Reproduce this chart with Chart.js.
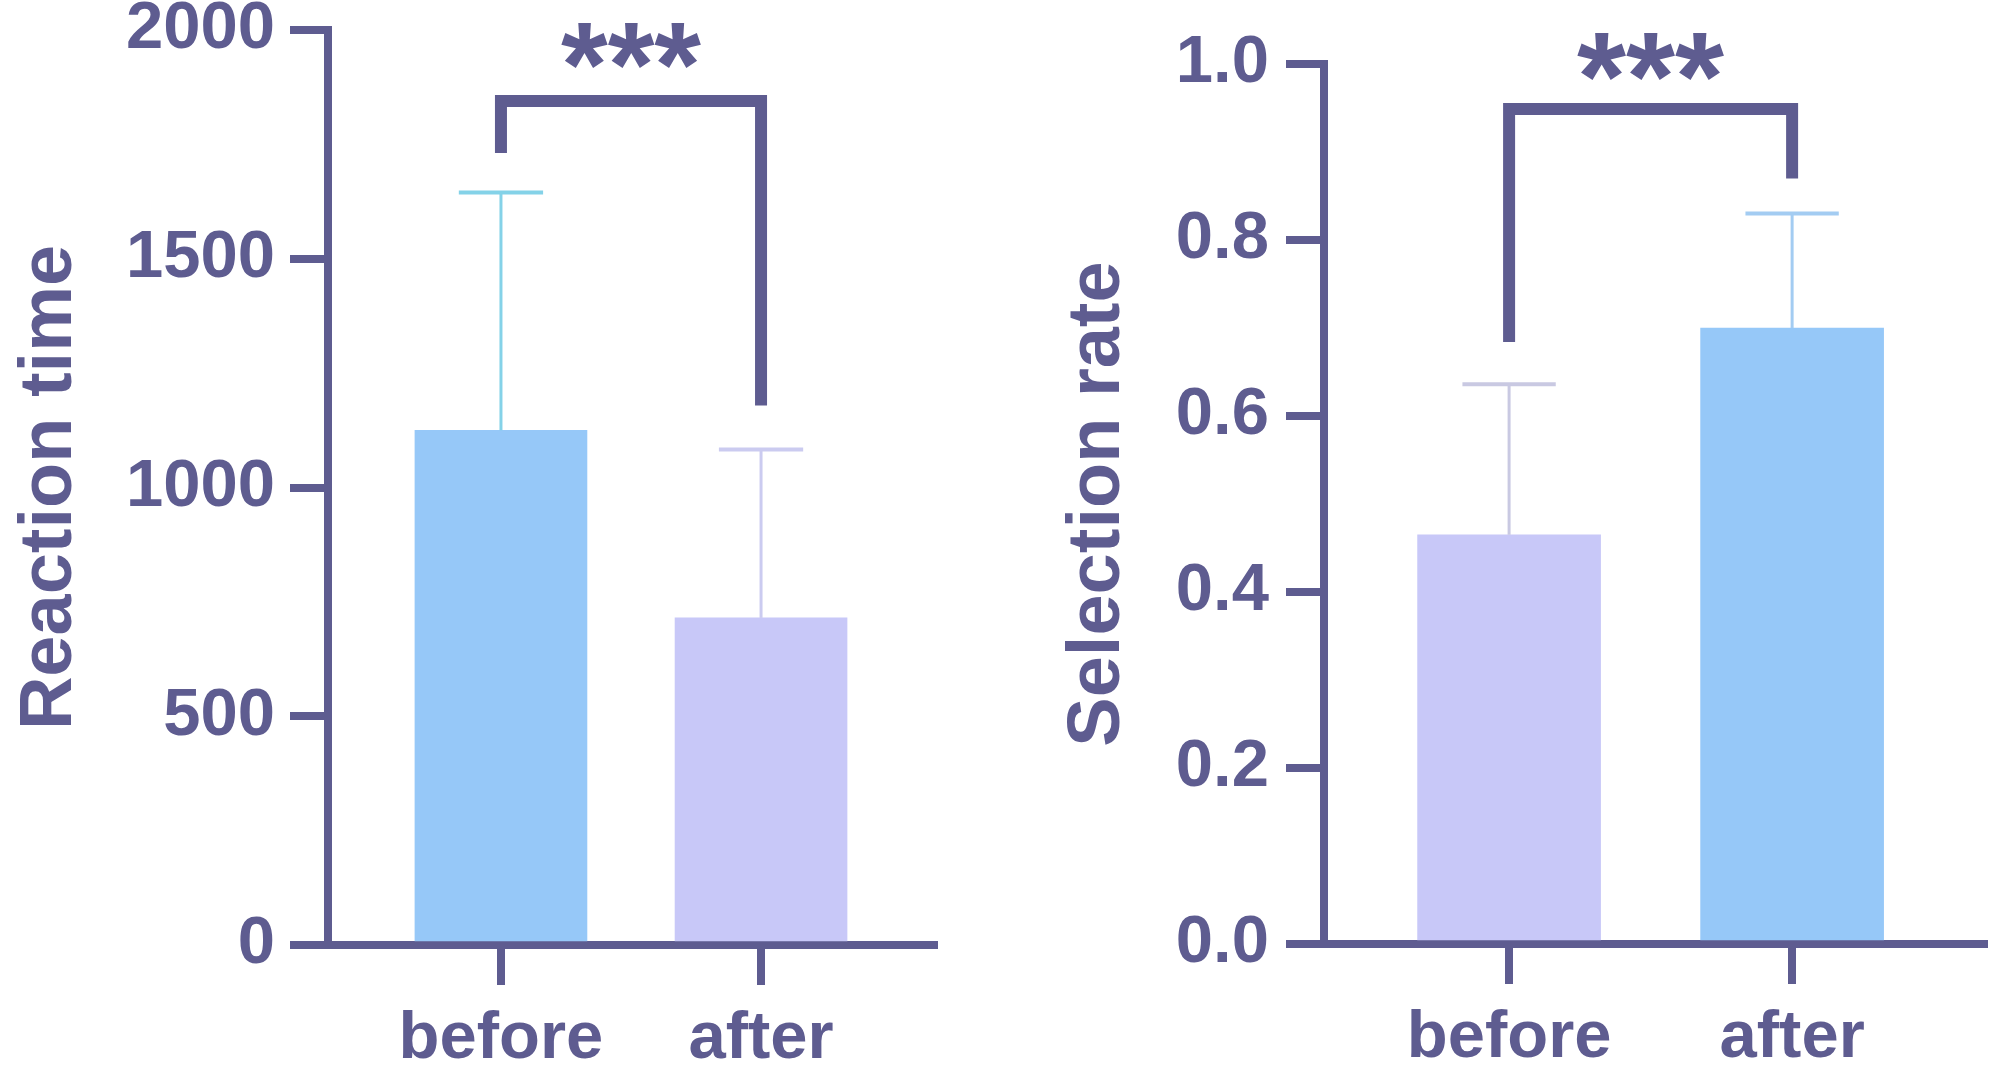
<!DOCTYPE html>
<html>
<head>
<meta charset="utf-8">
<script src="https://cdn.jsdelivr.net/npm/chart.js@4.4.1/dist/chart.umd.min.js"></script>
<style>
  html, body { margin: 0; padding: 0; background: #ffffff; }
  #wrap { position: relative; width: 1995px; height: 1072px; overflow: hidden; }
  #c1 { position: absolute; left: 0; top: 0; }
  #c2 { position: absolute; left: 1000px; top: 0; }
</style>
</head>
<body>
<div id="wrap">
  <canvas id="c1" width="1000" height="1072"></canvas>
  <canvas id="c2" width="995" height="1072"></canvas>
</div>
<script>
// ---- data ----
const categories = ['before', 'after'];
const categoryX = [0, 1];

const reactionMean = [1125, 715];
const reactionSD = [520, 368];
const reactionTicks = [0, 500, 1000, 1500, 2000];
// bracket: [left leg bottom, bar height, right leg bottom]
const reactionBracket = [1731, 1845, 1179];

const selectionMean = [0.465, 0.700];
const selectionSD = [0.171, 0.130];
const selectionTicks = [0, 0.2, 0.4, 0.6, 0.8, 1.0];
const selectionBracket = [0.684, 0.949, 0.870];

const significance = '***';

// ---- styles ----
const AXIS = '#5e5c90';
const TEXT = '#5e5c90';
const BLUE = '#96c8f8';
const LAV = '#c8c8f8';
const FONT = "'Liberation Sans', Arial, sans-serif";

const errorBarPlugin = {
  id: 'errorBars',
  afterDatasetsDraw(chart, args, opts) {
    const ctx = chart.ctx;
    const y = chart.scales.y;
    const meta = chart.getDatasetMeta(0);
    const ds = chart.data.datasets[0];
    meta.data.forEach((bar, i) => {
      const mean = ds.data[i].y;
      const sd = opts.sd[i];
      const yTop = y.getPixelForValue(mean + sd);
      const yBase = y.getPixelForValue(mean);
      const half = bar.width * opts.capRatio;
      ctx.save();
      ctx.strokeStyle = opts.colors[i];
      ctx.lineCap = 'butt';
      ctx.lineWidth = opts.stemWidth;
      ctx.beginPath();
      ctx.moveTo(bar.x, yBase);
      ctx.lineTo(bar.x, yTop);
      ctx.stroke();
      ctx.lineWidth = opts.capWidth;
      ctx.beginPath();
      ctx.moveTo(bar.x - half, yTop);
      ctx.lineTo(bar.x + half, yTop);
      ctx.stroke();
      ctx.restore();
    });
  }
};

const bracketPlugin = {
  id: 'bracket',
  afterDraw(chart, args, opts) {
    const ctx = chart.ctx;
    const x = chart.scales.x, y = chart.scales.y;
    const b = opts.values;
    const x0 = x.getPixelForValue(categoryX[0]);
    const x1 = x.getPixelForValue(categoryX[1]);
    const yL = y.getPixelForValue(b[0]);
    const yT = y.getPixelForValue(b[1]);
    const yR = y.getPixelForValue(b[2]);
    ctx.save();
    ctx.strokeStyle = opts.color;
    ctx.lineWidth = opts.width;
    ctx.lineJoin = 'miter';
    ctx.lineCap = 'butt';
    ctx.beginPath();
    ctx.moveTo(x0, yL);
    ctx.lineTo(x0, yT);
    ctx.lineTo(x1, yT);
    ctx.lineTo(x1, yR);
    ctx.stroke();
    // stars
    ctx.fillStyle = opts.color;
    ctx.font = 'bold ' + opts.starSize + 'px ' + FONT;
    ctx.textAlign = 'center';
    ctx.textBaseline = 'alphabetic';
    const m = ctx.measureText(opts.text);
    const inkBottom = yT - opts.width / 2 - opts.starGap;
    const baseline = inkBottom - m.actualBoundingBoxDescent;
    ctx.fillText(opts.text, (x0 + x1) / 2, baseline);
    ctx.restore();
  }
};

function makeChart(canvas, cfg) {
  return new Chart(canvas, {
    type: 'bar',
    data: {
      datasets: [{
        data: cfg.means.map((v, i) => ({ x: categoryX[i], y: v })),
        backgroundColor: cfg.barColors,
        borderWidth: 0,
        barThickness: cfg.barThickness
      }]
    },
    options: {
      responsive: false,
      animation: false,
      devicePixelRatio: 1,
      layout: { padding: cfg.padding },
      plugins: {
        legend: { display: false },
        tooltip: { enabled: false },
        errorBars: {
          sd: cfg.sd, colors: cfg.errColors, capRatio: cfg.capRatio,
          stemWidth: 3, capWidth: 4
        },
        bracket: {
          values: cfg.bracket, color: AXIS, width: 12,
          text: significance, starSize: cfg.starSize, starGap: cfg.starGap
        }
      },
      scales: {
        x: {
          type: 'linear',
          min: cfg.xRange[0],
          max: cfg.xRange[1],
          offset: false,
          afterBuildTicks: (s) => { s.ticks = categoryX.map(v => ({ value: v })); },
          afterFit: (s) => { s.height = cfg.xHeight; s.paddingLeft = 0; s.paddingRight = 0; },
          grid: {
            offset: false,
            drawOnChartArea: false,
            drawTicks: true,
            tickLength: 40,
            tickWidth: 8,
            tickColor: AXIS,
            lineWidth: 8,
            color: AXIS
          },
          border: { display: true, width: 8, color: AXIS },
          ticks: {
            color: TEXT,
            font: { family: FONT, size: 67, weight: 'bold' },
            padding: 14,
            maxRotation: 0,
            autoSkip: false,
            callback: (v) => categories[Math.round(v)]
          }
        },
        y: {
          type: 'linear',
          min: cfg.yTicks[0],
          max: cfg.yTicks[cfg.yTicks.length - 1],
          afterBuildTicks: (s) => { s.ticks = cfg.yTicks.map(v => ({ value: v })); },
          afterFit: (s) => { s.width = cfg.yWidth; s.paddingTop = 0; s.paddingBottom = 0; },
          grid: {
            drawOnChartArea: false,
            drawTicks: true,
            tickLength: 38,
            tickWidth: 8,
            tickColor: AXIS,
            lineWidth: 8,
            color: AXIS
          },
          border: { display: true, width: 8, color: AXIS },
          ticks: {
            color: TEXT,
            font: { family: FONT, size: 67, weight: 'bold' },
            padding: cfg.tickPad,
            autoSkip: false,
            callback: cfg.tickFormat
          },
          title: {
            display: true,
            text: cfg.title,
            color: TEXT,
            font: { family: FONT, size: 74, weight: 'bold' },
            padding: { top: cfg.titlePad, bottom: 0 }
          }
        }
      }
    },
    plugins: [errorBarPlugin, bracketPlugin]
  });
}

makeChart(document.getElementById('c1'), {
  means: reactionMean,
  sd: reactionSD,
  barColors: [BLUE, LAV],
  errColors: ['#84d2e8', '#cbcbf0'],
  barThickness: 172,
  capRatio: 0.245,
  padding: { top: 30, right: 66, bottom: 0, left: 0 },
  xRange: [-0.665, 1.665],
  xHeight: 127,
  yWidth: 328,
  yTicks: reactionTicks,
  tickPad: 15,
  tickFormat: (v) => String(v),
  title: 'Reaction time',
  titlePad: 6,
  bracket: reactionBracket,
  starSize: 120,
  starGap: 27
});

makeChart(document.getElementById('c2'), {
  means: selectionMean,
  sd: selectionSD,
  barColors: [LAV, BLUE],
  errColors: ['#c9c9e2', '#a3ccf2'],
  barThickness: 183,
  capRatio: 0.255,
  padding: { top: 64, right: 11, bottom: 0, left: 0 },
  xRange: [-0.654, 1.678],
  xHeight: 128,
  yWidth: 324,
  yTicks: selectionTicks,
  tickPad: 17,
  tickFormat: (v) => Number(v).toFixed(1),
  title: 'Selection rate',
  titlePad: 54,
  bracket: selectionBracket,
  starSize: 126,
  starGap: 22
});
</script>
</body>
</html>
